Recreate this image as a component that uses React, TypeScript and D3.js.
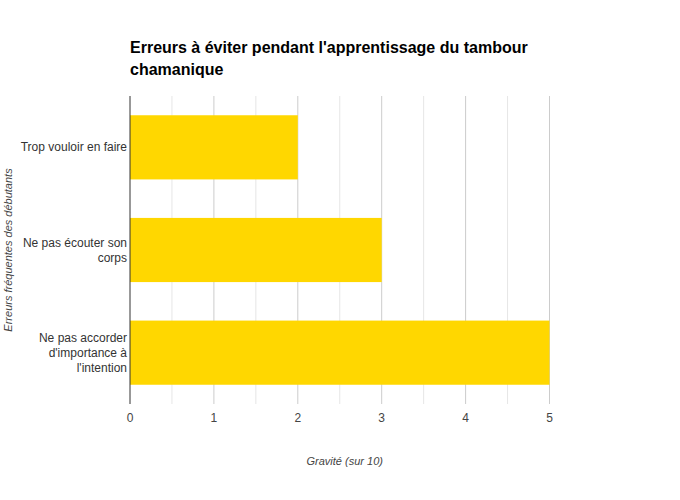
import React from "react";
import * as d3 from "d3";

const categories = [
  ["Trop vouloir en faire"],
  ["Ne pas écouter son", "corps"],
  ["Ne pas accorder", "d'importance à", "l'intention"],
];
const values = [2, 3, 5];
const xTicks = [0, 1, 2, 3, 4, 5];
const title = ["Erreurs à éviter pendant l'apprentissage du tambour", "chamanique"];
const xLabel = "Gravité (sur 10)";
const yLabel = "Erreurs fréquentes des débutants";

export default function App() {
  const W = 680, H = 500;
  const left = 130, right = 549.5, top = 96, bottom = 404;
  const x = d3.scaleLinear().domain([0, 5]).range([left, right]);
  const y = d3
    .scaleBand<number>()
    .domain(categories.map((_, i) => i))
    .range([top, bottom])
    .paddingInner(0.375)
    .paddingOuter(0.1875);
  const minor = d3.range(0.5, 5, 1);
  const font = "'Liberation Sans', Arial, sans-serif";
  return (
    <svg width={W} height={H} style={{ position: "absolute", left: 0, top: 0, fontFamily: font }}>
      <rect width={W} height={H} fill="#fff" />
      {minor.map((t) => (
        <line key={"m" + t} x1={x(t)} x2={x(t)} y1={top} y2={bottom} stroke="#e6e6e6" strokeWidth={1} />
      ))}
      {xTicks.slice(1).map((t) => (
        <line key={"g" + t} x1={x(t)} x2={x(t)} y1={top} y2={bottom} stroke="#cccccc" strokeWidth={1} />
      ))}
      {values.map((v, i) => (
        <rect key={i} x={x(0)} y={y(i)} width={x(v) - x(0)} height={y.bandwidth()} fill="#FFD700" />
      ))}
      <line x1={x(0)} x2={x(0)} y1={top} y2={bottom} stroke="#333" strokeWidth={1} />
      {xTicks.map((t) => (
        <text key={"t" + t} x={x(t)} y={422} textAnchor="middle" fontSize={12} fill="#444">
          {t}
        </text>
      ))}
      {categories.map((lines, i) => {
        const cy = (y(i) as number) + y.bandwidth() / 2;
        const lh = 15;
        const start = cy - ((lines.length - 1) * lh) / 2 + 4;
        return (
          <text key={"c" + i} textAnchor="end" fontSize={12} fill="#333">
            {lines.map((l, j) => (
              <tspan key={j} x={127} y={start + j * lh}>
                {l}
              </tspan>
            ))}
          </text>
        );
      })}
      {title.map((t, i) => (
        <text key={"ti" + i} x={130} y={53 + i * 22} fontSize={16} fontWeight="bold" fill="#000">
          {t}
        </text>
      ))}
      <text x={(left + right) / 2 + 5} y={465} textAnchor="middle" fontSize={11} fontStyle="italic" fill="#444">
        {xLabel}
      </text>
      <text
        transform={`translate(12,${(top + bottom) / 2}) rotate(-90)`}
        textAnchor="middle"
        fontSize={11}
        fontStyle="italic"
        fill="#444"
      >
        {yLabel}
      </text>
    </svg>
  );
}
